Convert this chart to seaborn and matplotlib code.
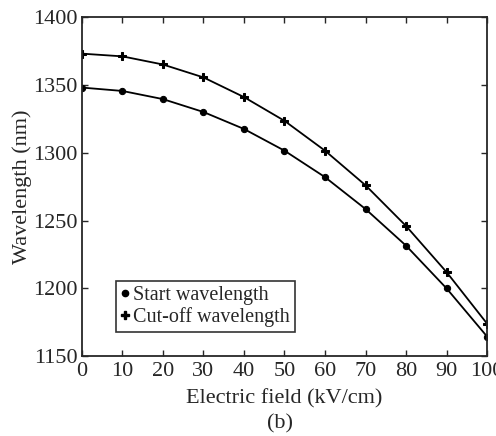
import numpy as np
import pandas as pd
import matplotlib
matplotlib.use("Agg")
import matplotlib.pyplot as plt
import seaborn as sns
from matplotlib.lines import Line2D

# values
field = [0, 10, 20, 30, 40, 50, 60, 70, 80, 90, 100]
start_wl = [1348, 1345.5, 1339.5, 1330, 1317.5, 1301.5, 1282, 1258.5, 1231.5, 1200, 1164.5]
cutoff_wl = [1373, 1371, 1365, 1355.5, 1341, 1323.5, 1301.5, 1276, 1246, 1212, 1174]

sns.set_style("ticks")
plt.rcParams["font.family"] = ["Liberation Serif", "DejaVu Serif"]
plt.rcParams["xtick.direction"] = "in"
plt.rcParams["ytick.direction"] = "in"

df = pd.DataFrame({"field": field, "start": start_wl, "cutoff": cutoff_wl})

fig = plt.figure(figsize=(4.96, 4.36), dpi=100)
ax = fig.add_axes([0.165, 0.183, 0.817, 0.778])

sns.lineplot(data=df, x="field", y="start", ax=ax, color="black", lw=1.3,
             marker="o", markersize=4.5, markeredgecolor="black")
sns.lineplot(data=df, x="field", y="cutoff", ax=ax, color="black", lw=1.3,
             marker="P", markersize=5.5, markeredgecolor="black")

ax.set_xlim(0, 100)
ax.set_ylim(1150, 1400)
ax.set_xticks(np.arange(0, 101, 10))
ax.set_yticks(np.arange(1150, 1401, 50))
ax.tick_params(labelsize=16, length=4, width=1, top=True, right=True)
ax.tick_params(axis="x", pad=4)
ax.tick_params(axis="y", pad=3)
for s in ax.spines.values():
    s.set_linewidth(1.3)
    s.set_visible(True)

ax.set_xlabel("Electric field (kV/cm)", fontsize=16, labelpad=6)
ax.set_ylabel("Wavelength (nm)", fontsize=16, labelpad=1)

handles = [
    Line2D([], [], color="black", ls="none", marker="o", markersize=4.5),
    Line2D([], [], color="black", ls="none", marker="P", markersize=5.5),
]
leg = ax.legend(handles, ["Start wavelength", "Cut-off wavelength"],
                loc="lower left", bbox_to_anchor=(0.085, 0.072), fontsize=14.5,
                frameon=True, fancybox=False, handlelength=0.4, handletextpad=0.2,
                borderpad=0.25, labelspacing=0.1, borderaxespad=0)
leg.get_frame().set_edgecolor("black")
leg.get_frame().set_linewidth(1.2)

fig.text(0.565, 0.005, "(b)", fontsize=16, ha="center", va="bottom")

fig.savefig("out.png", dpi=100)
